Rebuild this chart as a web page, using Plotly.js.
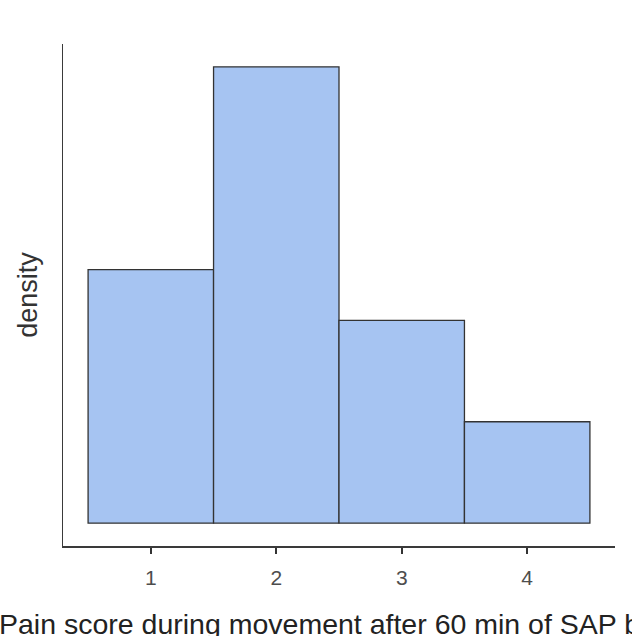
<!DOCTYPE html>
<html>
<head>
<meta charset="utf-8">
<script src="https://cdn.plot.ly/plotly-3.0.1.min.js"></script>
<style>html,body{margin:0;padding:0;background:#fff;}#chart{width:632px;height:636px;}</style>
</head>
<body>
<div id="chart"></div>
<script>
const painScores = [1, 2, 3, 4];
const densityValues = [0.25, 0.45, 0.20, 0.10];
const tickLabels = ["1", "2", "3", "4"];
const xTitle = "Pain score during movement after 60 min of SAP block";
const yTitle = "density";

const trace = {
  type: "bar",
  x: painScores,
  y: densityValues,
  width: 1,
  marker: {color: "#A6C4F2", line: {color: "#333333", width: 1.3}},
  hoverinfo: "x+y"
};

const layout = {
  width: 632,
  height: 636,
  margin: {l: 63, r: 17, t: 44, b: 90},
  paper_bgcolor: "#ffffff",
  plot_bgcolor: "#ffffff",
  font: {family: "Liberation Sans, Arial, sans-serif", color: "#333333"},
  bargap: 0,
  showlegend: false,
  xaxis: {
    range: [0.3, 4.7],
    tickvals: painScores,
    ticktext: tickLabels,
    showgrid: false,
    zeroline: false,
    showline: true,
    linecolor: "#3a3a3a",
    linewidth: 1.5,
    ticks: "outside",
    ticklen: 6,
    tickwidth: 2,
    tickcolor: "#333333",
    ticklabelstandoff: 6,
    tickfont: {size: 21, color: "#4d4d4d"}
  },
  yaxis: {
    range: [-0.0225, 0.4725],
    showticklabels: false,
    ticks: "",
    showgrid: false,
    zeroline: false,
    showline: true,
    linecolor: "#3a3a3a",
    linewidth: 1.5,
    title: {text: yTitle, font: {size: 27, color: "#333333"}, standoff: 16}
  },
  annotations: [{
    text: xTitle,
    xref: "paper", yref: "paper",
    x: 0.511, y: 0,
    xanchor: "center", yanchor: "top",
    yshift: -60,
    showarrow: false,
    font: {size: 28.5, color: "#222222"}
  }]
};

Plotly.newPlot("chart", [trace], layout, {displayModeBar: false, staticPlot: true});
</script>
</body>
</html>
